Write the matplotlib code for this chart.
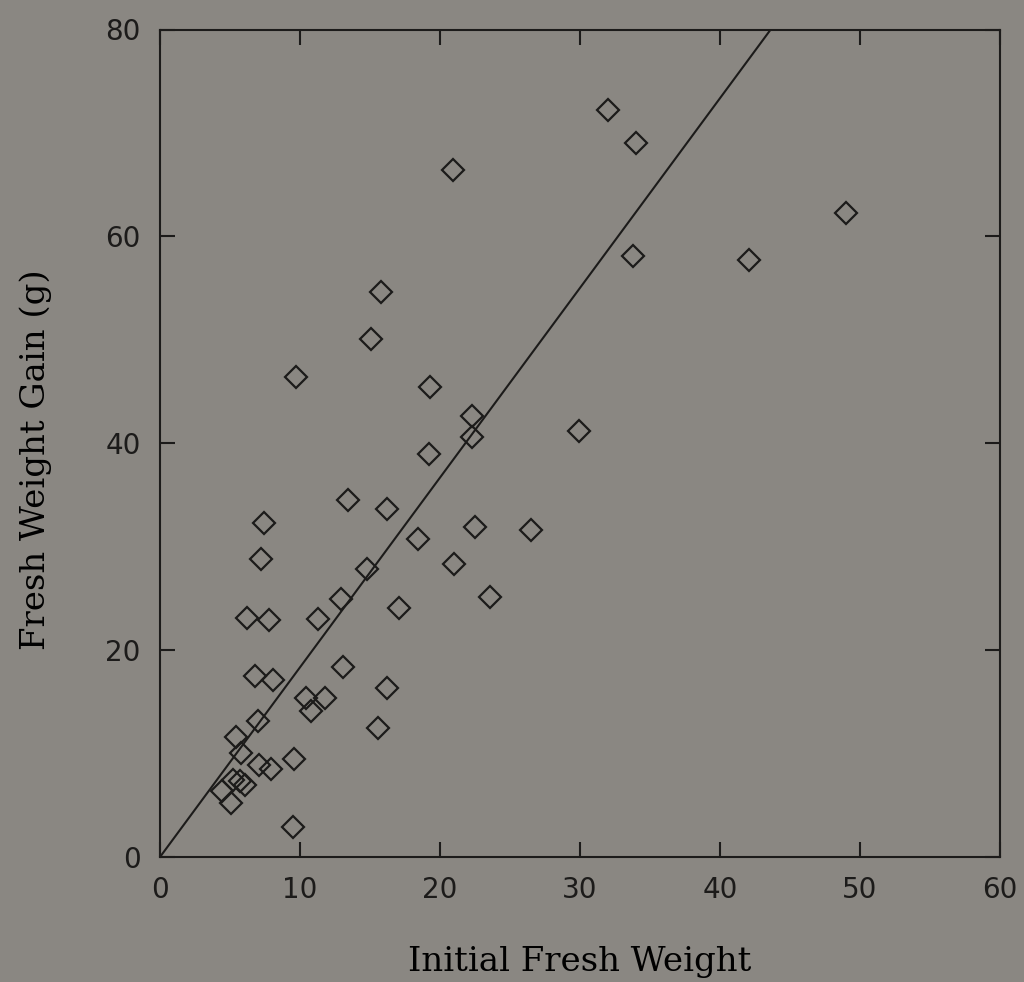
import matplotlib
matplotlib.use('Agg')
import matplotlib.pyplot as plt
import numpy as np

# scanned figure: fresh weight gain vs initial fresh weight
initial_weight = [4.4, 5.1, 5.2, 5.7, 6.1, 5.4, 5.8, 7.1, 7.9, 9.6,
                  9.5, 7.0, 6.8, 8.1, 6.2, 7.8, 7.2, 7.4, 9.7, 10.4,
                  10.8, 11.8, 11.3, 12.9, 13.1, 13.4, 14.8, 15.6, 16.2, 16.2,
                  17.1, 15.1, 15.8, 18.4, 19.2, 19.3, 20.9, 21.0, 22.3, 22.3,
                  22.5, 23.6, 26.5, 29.9, 32.0, 34.0, 33.8, 42.1, 49.0]
weight_gain = [6.4, 5.2, 7.4, 7.35, 7.0, 11.6, 10.1, 8.9, 8.5, 9.5,
               2.9, 13.1, 17.5, 17.1, 23.1, 22.9, 28.8, 32.3, 46.4, 15.4,
               14.1, 15.4, 23.0, 24.9, 18.4, 34.5, 27.8, 12.5, 16.3, 33.6,
               24.1, 50.1, 54.6, 30.7, 39.0, 45.4, 66.4, 28.3, 42.6, 40.6,
               31.9, 25.1, 31.6, 41.2, 72.2, 69.0, 58.1, 57.7, 62.3]

# regression line through the origin
fit_slope = 1.834
fit_intercept = 0.0

x_ticks = [0, 10, 20, 30, 40, 50, 60]
y_ticks = [0, 20, 40, 60, 80]

bg = '#8a8782'
ink = '#1c1b1a'

plt.rcParams.update({
    'font.family': 'DejaVu Sans',
    'axes.edgecolor': ink,
    'axes.linewidth': 1.5,
    'text.color': ink,
    'xtick.color': ink,
    'ytick.color': ink,
})

fig = plt.figure(figsize=(10.24, 9.82), dpi=100, facecolor=bg)
ax = fig.add_axes([160 / 1024, 125 / 982, 840 / 1024, 827.5 / 982], facecolor=bg)

ax.plot(initial_weight, weight_gain, linestyle='none', marker='D', ms=11,
        mfc='none', mec=ink, mew=1.6, zorder=3)

xl = np.array([0, 60])
ax.plot(xl, fit_slope * xl + fit_intercept, color=ink, linewidth=1.5, zorder=2)

ax.set_xlim(0, 60)
ax.set_ylim(0, 80)
ax.set_xticks(x_ticks)
ax.set_yticks(y_ticks)
ax.tick_params(direction='in', length=11, width=1.5, top=True, right=True,
               labelsize=20, pad=14)

label_font = dict(family='DejaVu Serif', size=24.5)
ax.set_xlabel('Initial Fresh Weight', labelpad=30, **label_font)
ax.set_ylabel('Fresh Weight Gain (g)', **label_font)
ax.yaxis.set_label_coords(-0.1286, 0.48)

plt.savefig('out.png', dpi=100, facecolor=bg)
plt.close()
